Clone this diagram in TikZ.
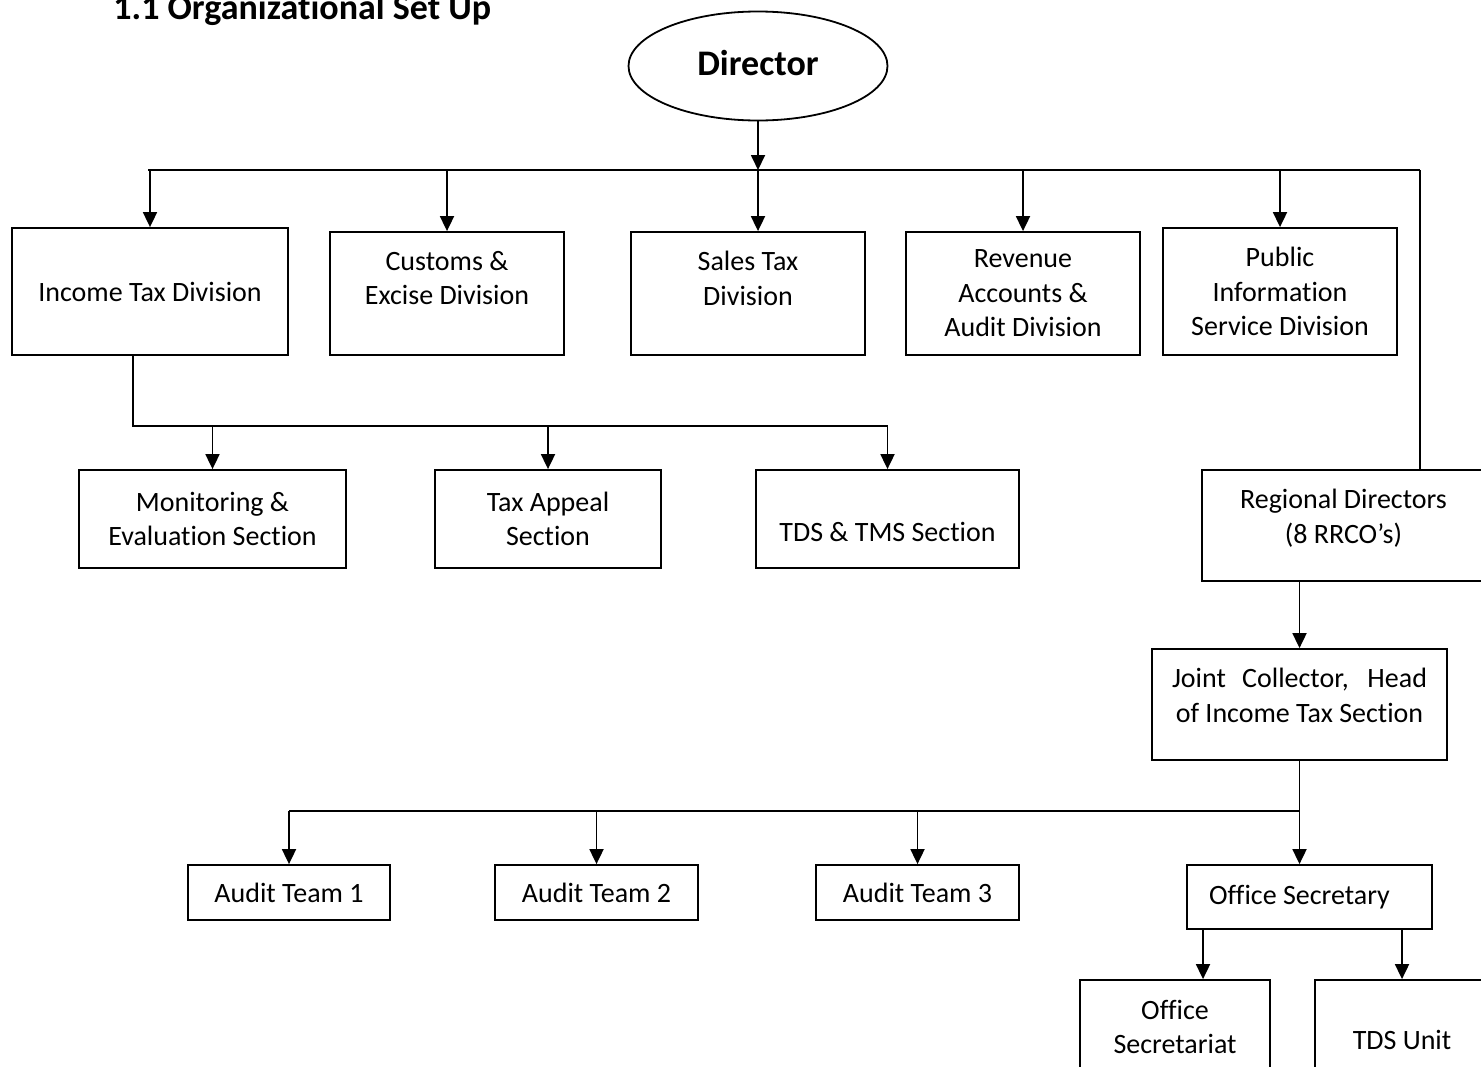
\documentclass[tikz,border=0pt]{standalone}
\usepackage{fontspec}
\setmainfont{Carlito}[Ligatures=CommonOff]
\usetikzlibrary{arrows.meta,shapes.geometric}

\tikzset{
  unitbox/.style={draw, line width=0.9pt, align=center, inner sep=0pt,
    font=\fontsize{14}{17.25}\selectfont},
  link/.style={line width=0.9pt},
  tip/.style={link, -{Triangle[length=7.5pt,width=7pt]}}
}

\begin{document}
\begin{tikzpicture}[x=0.5pt,y=-0.5pt]
\useasboundingbox (0,0) rectangle (1481,1066);

\node[anchor=base west, inner sep=0pt, font=\bfseries\fontsize{18}{22}\selectfont] (title) at (113,19) {1.1 Organizational Set Up};
\node[ellipse, draw, line width=0.9pt, minimum width=129.5pt, minimum height=54.5pt, font=\bfseries\fontsize{18}{22}\selectfont] (director) at (758,66) {\raisebox{3pt}{Director}};

\node[unitbox, minimum width=138pt, minimum height=63.5pt] (income) at (150,291.5) {Income Tax Division};
\node[unitbox, minimum width=117pt, minimum height=61.5pt] (customs) at (447,293.5) {Customs \&\\Excise Division\\[-7pt]\strut};
\node[unitbox, minimum width=117pt, minimum height=61.5pt] (sales) at (748,293.5) {Sales Tax\\Division\\[-7pt]\strut};
\node[unitbox, minimum width=117pt, minimum height=61.5pt] (revenue) at (1023,293.5) {Revenue\\Accounts \&\\Audit Division};
\node[unitbox, minimum width=117pt, minimum height=63.5pt] (public) at (1280,291.5) {Public\\Information\\Service Division};

\node[unitbox, minimum width=133.5pt, minimum height=49pt] (monitor) at (212.5,519) {Monitoring \&\\Evaluation Section};
\node[unitbox, minimum width=113pt, minimum height=49pt] (appeal) at (548,519) {Tax Appeal\\Section};
\node[unitbox, minimum width=131.5pt, minimum height=49pt] (tdstms) at (887.5,519) {\strut\\[-7pt]TDS \& TMS Section};
\node[unitbox, minimum width=141.5pt, minimum height=55.5pt] (regional) at (1343.5,525.5) {Regional Directors\\(8 RRCO’s)\\[-13pt]\strut};

\node[unitbox, minimum width=147.5pt, minimum height=55.5pt] (joint) at (1299.5,704.5) {\makebox[127.5pt][s]{Joint Collector, Head}\\of Income Tax Section\\[-13pt]\strut};

\node[unitbox, minimum width=101pt, minimum height=27.5pt] (audit1) at (289,892.5) {Audit Team 1};
\node[unitbox, minimum width=101.5pt, minimum height=27.5pt] (audit2) at (596.5,892.5) {Audit Team 2};
\node[unitbox, minimum width=101.5pt, minimum height=27.5pt] (audit3) at (917.5,892.5) {Audit Team 3};
\node[unitbox, minimum width=122.5pt, minimum height=32pt] (offsec) at (1309.5,897) {Office Secretary\hspace*{10pt}};

\node[unitbox, minimum width=95pt, minimum height=47pt] (secretariat) at (1175,1027) {Office\\Secretariat};
\node[unitbox, minimum width=87pt, minimum height=60pt] (tdsunit) at (1402,1040) {TDS Unit};

\coordinate (bl) at (148,170);
\coordinate (br) at (1420,170);
\coordinate (ib) at (133,426);
\coordinate (ab) at (289,811);
\path ([xshift=14pt]secretariat.north) coordinate (sectop);

\draw[tip] (director) -- (director |- bl);
\draw[link] (bl) -- (br);
\draw[tip] (director |- bl) -- (director |- sales.north);
\foreach \n in {income,customs,revenue,public}
  \draw[tip] (\n |- bl) -- (\n);
\draw[link] (br) -- (br |- regional.north);

\draw[link] (ib |- income.south) -- (ib) -- (ib -| tdstms);
\foreach \n in {monitor,appeal,tdstms}
  \draw[tip] (\n |- ib) -- (\n);

\draw[tip] (joint |- regional.south) -- (joint);
\draw[tip] (joint) -- (joint |- offsec.north);
\draw[link] (ab) -- (joint |- ab);
\foreach \n in {audit1,audit2,audit3}
  \draw[tip] (\n |- ab) -- (\n);

\draw[tip] (sectop |- offsec.south) -- (sectop);
\draw[tip] (tdsunit |- offsec.south) -- (tdsunit);
\end{tikzpicture}
\end{document}
